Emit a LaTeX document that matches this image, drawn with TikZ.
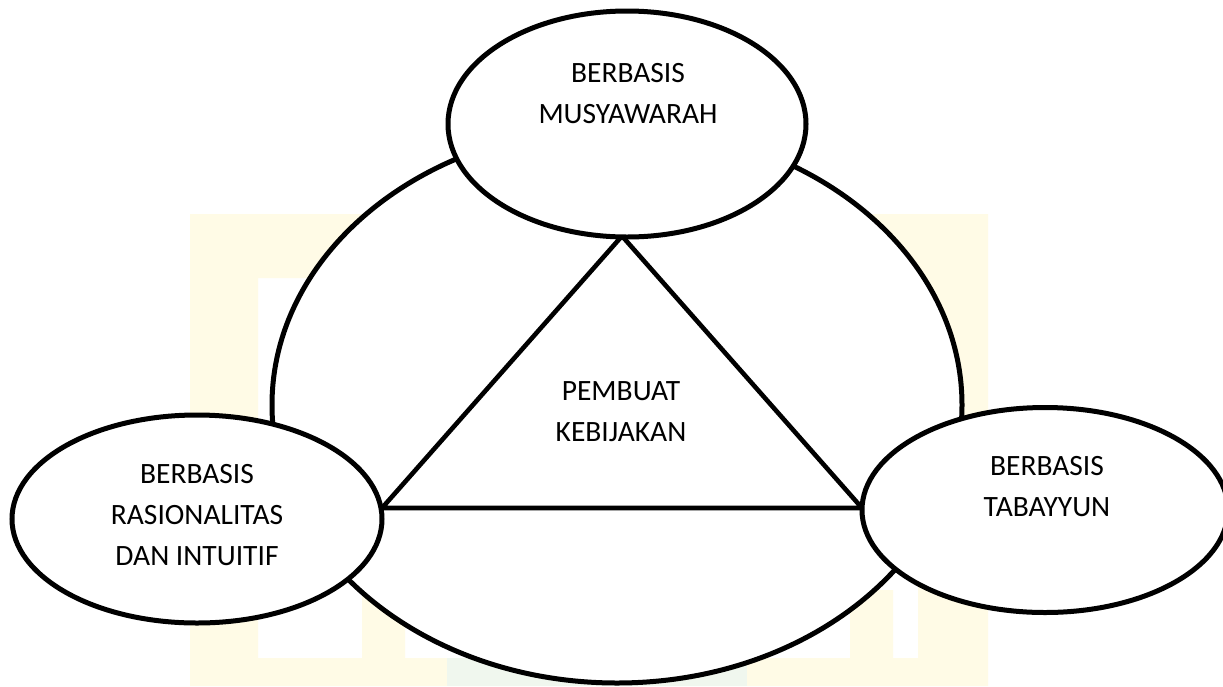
\documentclass[tikz,border=0pt]{standalone}
\usepackage{fontspec}
\setmainfont{Carlito}
\usetikzlibrary{shapes.geometric}
\definecolor{wmyellow}{HTML}{FFFBE6}
\definecolor{wmgreen}{HTML}{F0F7EE}
\begin{document}
\begin{tikzpicture}[x=1pt,y=-1pt,
  oval/.style={ellipse, draw=black, fill=white, line width=5pt, inner sep=0pt, outer sep=0pt},
  caption/.style={align=center, inner sep=0pt, font=\fontsize{29.5}{41}\selectfont},
  edge/.style={line width=4.6pt, line join=miter}]
\useasboundingbox (0,0) rectangle (1223,686);
\clip (0,0) rectangle (1223,686);
\fill[white] (0,0) rectangle (1223,686);
% faint background watermark
\fill[wmyellow, even odd rule] (190,214) rectangle (988,686) (258,278) rectangle (918,658);
\fill[wmyellow] (362,590) rectangle (405,658) (850,590) rectangle (893,658);
\fill[wmgreen] (447,658) rectangle (747,686);

% outer ring
\node[oval, minimum width=690pt, minimum height=556pt] (ring) at (617,405) {};

% central triangle
\coordinate (apex) at (622,236);
\coordinate (bl) at (382,508);
\coordinate (br) at (862,508);
\draw[edge] (apex) -- (br) -- (bl) -- cycle;

% the three bases
\node[oval, minimum width=358pt, minimum height=226pt] (top) at (627,124) {};
\node[oval, minimum width=370pt, minimum height=208pt] (left) at (197,519) {};
\node[oval, minimum width=366pt, minimum height=205pt] (right) at (1045,510) {};

% labels
\node[caption] (ttop) at (628,94.8) {\strut BERBASIS\\\strut MUSYAWARAH};
\node[caption] (tcenter) at (621,412.8) {\strut PEMBUAT\\\strut KEBIJAKAN};
\node[caption] (tleft) at (197,515.8) {\strut BERBASIS\\\strut RASIONALITAS\\\strut DAN INTUITIF};
\node[caption] (tright) at (1047,487.8) {\strut BERBASIS\\\strut TABAYYUN};
\end{tikzpicture}
\end{document}
